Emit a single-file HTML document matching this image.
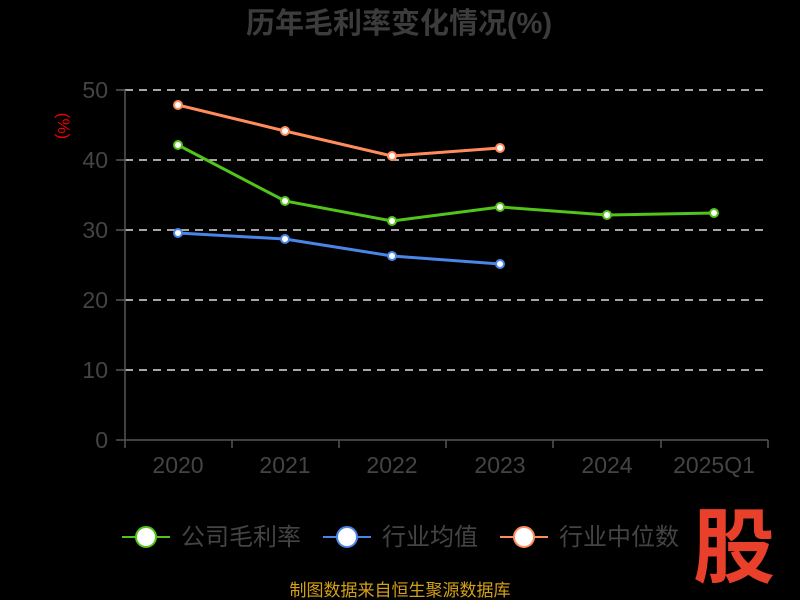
<!DOCTYPE html>
<html><head><meta charset="utf-8"><style>
html,body{margin:0;padding:0;background:#000;}
svg{display:block;font-family:"Liberation Sans","Noto Sans CJK SC",sans-serif;}
</style></head><body>
<svg width="800" height="600" viewBox="0 0 800 600">
<rect width="800" height="600" fill="#000"/>
<text x="399" y="33" text-anchor="middle" font-size="29" font-weight="bold" fill="#3c3c3c">历年毛利率变化情况(%)</text>
<text transform="translate(58,126) rotate(90)" text-anchor="middle" font-size="17" fill="#e00">(%)</text>
<g stroke="#ddd" stroke-width="1.5" stroke-dasharray="8,6">
<line x1="125" y1="90" x2="768" y2="90"/><line x1="125" y1="160" x2="768" y2="160"/>
<line x1="125" y1="230" x2="768" y2="230"/><line x1="125" y1="300" x2="768" y2="300"/>
<line x1="125" y1="370" x2="768" y2="370"/>
</g>
<g stroke="#555" stroke-width="1.5">
<line x1="125" y1="90" x2="125" y2="440"/><line x1="125" y1="440" x2="768" y2="440"/>
<line x1="116" y1="90" x2="125" y2="90"/><line x1="116" y1="160" x2="125" y2="160"/><line x1="116" y1="230" x2="125" y2="230"/><line x1="116" y1="300" x2="125" y2="300"/><line x1="116" y1="370" x2="125" y2="370"/><line x1="116" y1="440" x2="125" y2="440"/>
<line x1="125" y1="440" x2="125" y2="448"/><line x1="232" y1="440" x2="232" y2="448"/><line x1="339" y1="440" x2="339" y2="448"/><line x1="446" y1="440" x2="446" y2="448"/><line x1="553" y1="440" x2="553" y2="448"/><line x1="661" y1="440" x2="661" y2="448"/><line x1="768" y1="440" x2="768" y2="448"/>
</g>
<g font-size="23" fill="#444" text-anchor="end">
<text x="108" y="98">50</text><text x="108" y="168">40</text><text x="108" y="238">30</text><text x="108" y="308">20</text><text x="108" y="378">10</text><text x="108" y="448">0</text>
</g>
<g font-size="23" fill="#444" text-anchor="middle">
<text x="178" y="473">2020</text><text x="285" y="473">2021</text><text x="392" y="473">2022</text><text x="500" y="473">2023</text><text x="607" y="473">2024</text><text x="714" y="473">2025Q1</text>
</g>
<polyline points="178,105 285,131 392,156 500,148" fill="none" stroke="#ff8c5a" stroke-width="3"/>
<polyline points="178,145 285,201 392,221 500,207 607,215 714,213" fill="none" stroke="#52c41a" stroke-width="3"/>
<polyline points="178,233 285,239 392,256 500,264" fill="none" stroke="#4a86e8" stroke-width="3"/>
<g fill="#fff" stroke-width="2">
<g stroke="#ff8c5a"><circle cx="178" cy="105" r="4"/><circle cx="285" cy="131" r="4"/><circle cx="392" cy="156" r="4"/><circle cx="500" cy="148" r="4"/></g>
<g stroke="#52c41a"><circle cx="178" cy="145" r="4"/><circle cx="285" cy="201" r="4"/><circle cx="392" cy="221" r="4"/><circle cx="500" cy="207" r="4"/><circle cx="607" cy="215" r="4"/><circle cx="714" cy="213" r="4"/></g>
<g stroke="#4a86e8"><circle cx="178" cy="233" r="4"/><circle cx="285" cy="239" r="4"/><circle cx="392" cy="256" r="4"/><circle cx="500" cy="264" r="4"/></g>
</g>
<g stroke-width="2">
<line x1="122" y1="537" x2="170" y2="537" stroke="#52c41a"/><circle cx="146" cy="537" r="10" fill="#fff" stroke="#52c41a"/>
<line x1="323" y1="537" x2="371" y2="537" stroke="#4a86e8"/><circle cx="347" cy="537" r="10" fill="#fff" stroke="#4a86e8"/>
<line x1="500" y1="537" x2="548" y2="537" stroke="#ff8c5a"/><circle cx="524" cy="537" r="10" fill="#fff" stroke="#ff8c5a"/>
</g>
<g font-size="24" fill="#444">
<text x="181" y="545">公司毛利率</text><text x="382" y="545">行业均值</text><text x="559" y="545">行业中位数</text>
</g>
<text x="734" y="576" text-anchor="middle" font-size="82" font-weight="bold" fill="#e8402a">股</text>
<text x="400" y="596" text-anchor="middle" font-size="17" fill="#d4a017">制图数据来自恒生聚源数据库</text>
</svg>
</body></html>
